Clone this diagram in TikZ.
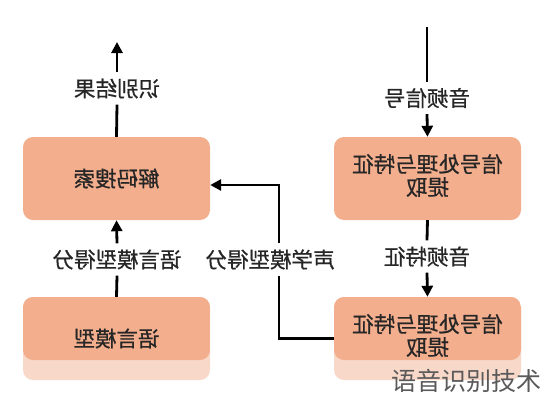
\documentclass[tikz,border=0pt]{standalone}
\usepackage{fontspec}
\usepackage{graphicx}
\setmainfont{Noto Sans CJK SC}
\newfontfamily\diagfont[FakeBold=0.7]{Noto Sans CJK SC}
\usetikzlibrary{arrows.meta}
\definecolor{boxfill}{HTML}{F2AE8D}
\definecolor{boxlight}{HTML}{F8D8C9}
\definecolor{txt}{HTML}{262626}
\definecolor{wm}{HTML}{5A5A5A}
\begin{document}
\begin{tikzpicture}[x=1pt,y=-1pt,
  topbox/.style={fill=boxfill, rounded corners=10pt, minimum width=187pt, minimum height=83pt, inner sep=0pt, text=txt, font=\diagfont\fontsize{21.5}{26}\selectfont},
  botbox/.style={topbox, fill=boxlight, path picture={\fill[boxfill] (path picture bounding box.north west) rectangle ([yshift=20pt]path picture bounding box.south east);}},
  lbl/.style={fill=white, inner xsep=4pt, inner ysep=6pt, text=txt, font=\diagfont\fontsize{21.5}{26}\selectfont},
  conn/.style={line width=2.8pt, draw=black},
  arr/.style={conn, -{Triangle[length=11pt,width=11pt]}}]
\useasboundingbox (0,0) rectangle (544,400);
% boxes
\node[topbox] (dec) at (116.5,178.5) {\reflectbox{解码搜索}};
\node[botbox] (lm) at (116.5,338.5) {\reflectbox{语言模型}};
\node[topbox] (sp1) at (427.5,178.5) {\reflectbox{\begin{tabular}{@{}c@{}}信号处理与特征\\[-3pt]提取\end{tabular}}};
\node[botbox] (sp2) at (427.5,338.5) {\reflectbox{\begin{tabular}{@{}c@{}}信号处理与特征\\[-3pt]提取\end{tabular}}};
% labels
\node[lbl] (lin) at (427,98) {\reflectbox{音频信号}};
\node[lbl] (lfeat) at (427,256.5) {\reflectbox{音频特征}};
\node[lbl] (lout) at (117,88.5) {\reflectbox{识别结果}};
\node[lbl] (llm) at (117,259.5) {\reflectbox{语言模型得分}};
\node[lbl] (lac) at (270,259.5) {\reflectbox{声学模型得分}};
% coordinates
\coordinate (in1) at (427,27);
\coordinate (out1) at (117,42);
\coordinate (c1) at (279,338.5);
\coordinate (c2) at (279,185);
% connectors
\draw[conn] (in1) -- (lin.north);
\draw[arr] (lin.south) -- (sp1.north);
\draw[conn] (sp1.south) -- (lfeat.north);
\draw[arr] (lfeat.south) -- (sp2.north);
\draw[conn] (dec.north) -- (lout.south);
\draw[arr] (lout.north) -- (out1);
\draw[conn] (lm.north) -- (llm.south);
\draw[arr] (llm.north) -- (dec.south);
\draw[conn] (sp2.west) -- (c1) -- (c1 |- lac.south);
\draw[arr] (c1 |- lac.north) -- (c2) -- (c2 -| dec.east);
% watermark
\node[text=wm, font=\fontsize{25}{29}\selectfont, inner sep=0pt] (wmark) at (466,381) {语音识别技术};
\end{tikzpicture}
\end{document}
